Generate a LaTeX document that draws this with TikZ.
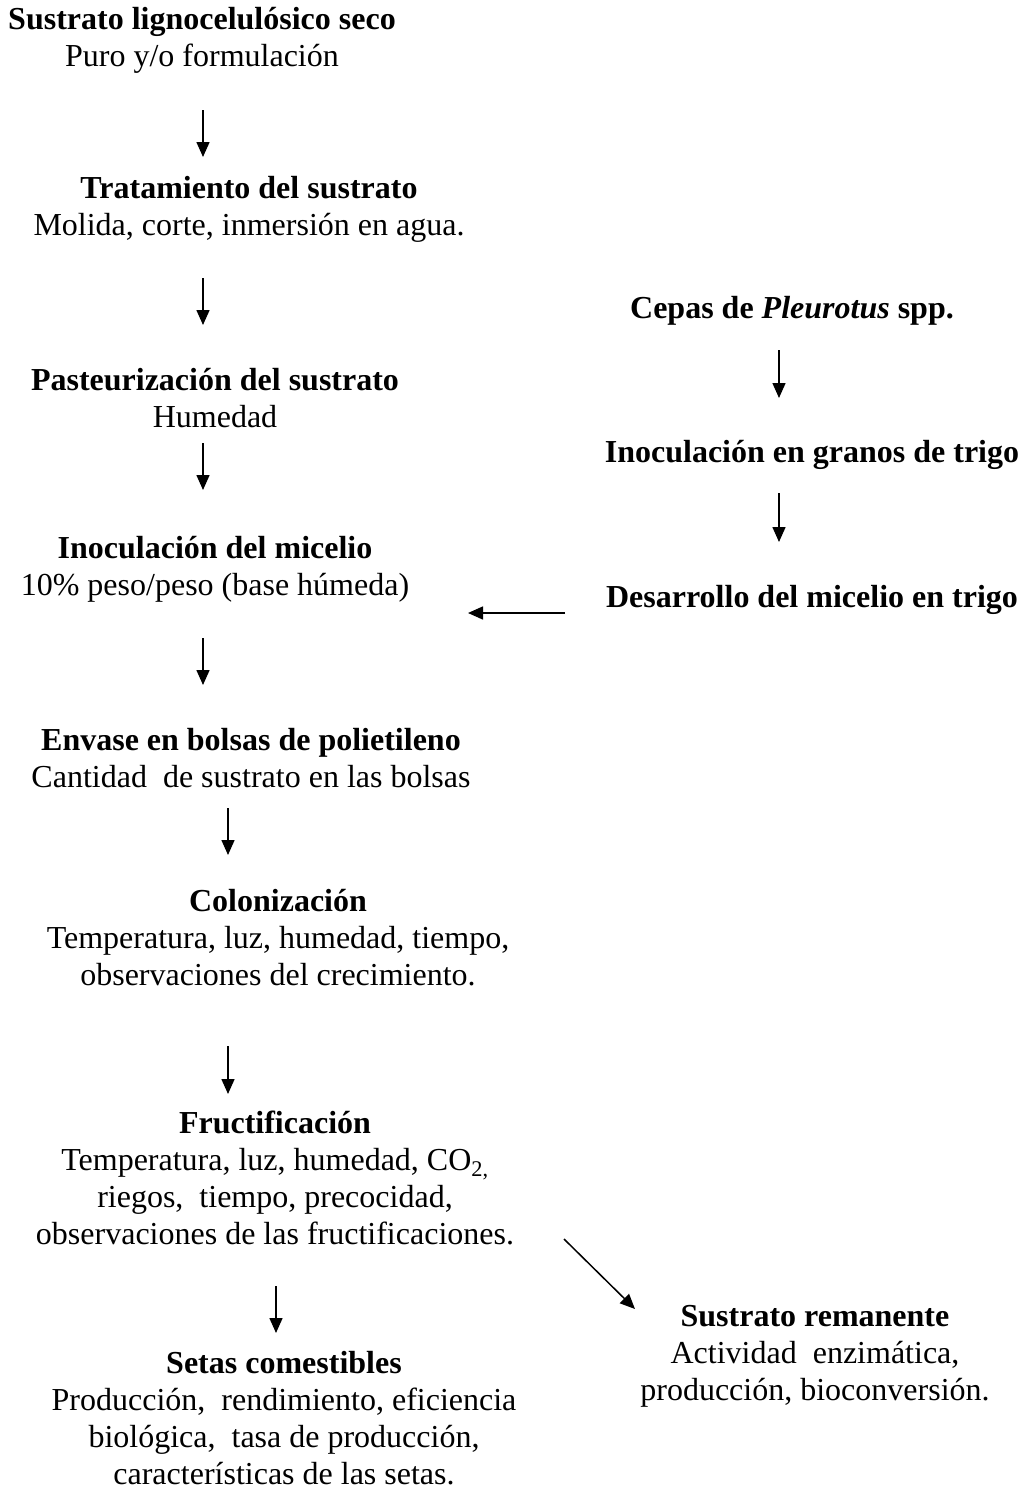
\documentclass[tikz,border=0pt]{standalone}
\usepackage{fontspec}
\setmainfont{Liberation Serif}
\usetikzlibrary{arrows.meta}
\begin{document}
\begin{tikzpicture}[x=1pt,y=-1pt,
  blk/.style={align=center, anchor=north, inner sep=0pt,
              font=\fontsize{32}{37}\selectfont},
  flow/.style={line width=1.5pt, -{Triangle[width=13pt,length=15pt]}}]
\useasboundingbox (0,0) rectangle (1025,1489);

% main sequence (left column)
\node[blk] (seco) at (202,3.1)
  {\strut\textbf{Sustrato lignocelulósico seco}\\Puro y/o formulación};
\node[blk] (trat) at (249,172.1)
  {\strut\textbf{Tratamiento del sustrato}\\Molida, corte, inmersión en agua.};
\node[blk] (past) at (215,364.1)
  {\strut\textbf{Pasteurización del sustrato}\\Humedad};
\node[blk] (inoc) at (215,532.1)
  {\strut\textbf{Inoculación del micelio}\\10\% peso/peso (base húmeda)};
\node[blk] (env) at (251,724.1)
  {\strut\textbf{Envase en bolsas de polietileno}\\Cantidad~ de sustrato en las bolsas};
\node[blk] (colon) at (278,885.1)
  {\strut\textbf{Colonización}\\Temperatura, luz, humedad, tiempo,\\observaciones del crecimiento.};
\node[blk] (fruct) at (275,1107.1)
  {\strut\textbf{Fructificación}\\Temperatura, luz, humedad, CO\textsubscript{2,}\\riegos,~ tiempo, precocidad,\\observaciones de las fructificaciones.};
\node[blk] (setas) at (284,1347.1)
  {\strut\textbf{Setas comestibles}\\Producción,~ rendimiento, eficiencia\\biológica,~ tasa de producción,\\características de las setas.};
\node[blk] (reman) at (815,1300.1)
  {\strut\textbf{Sustrato remanente}\\Actividad~ enzimática,\\producción, bioconversión.};

% spawn preparation (right column)
\node[blk] (cepas) at (792,292.1)
  {\strut\textbf{Cepas de \textit{Pleurotus} spp.}};
\node[blk] (granos) at (812,436.1)
  {\strut\textbf{Inoculación en granos de trigo}};
\node[blk] (desar) at (812,581.1)
  {\strut\textbf{Desarrollo del micelio en trigo}};

% arrow end points
\coordinate (a1s) at (203,110);  \coordinate (a1e) at (203,157);
\coordinate (a2s) at (203,278);  \coordinate (a2e) at (203,325);
\coordinate (a3s) at (203,443);  \coordinate (a3e) at (203,490);
\coordinate (a4s) at (203,638);  \coordinate (a4e) at (203,685);
\coordinate (a5s) at (228,808);  \coordinate (a5e) at (228,855);
\coordinate (a6s) at (228,1046); \coordinate (a6e) at (228,1094);
\coordinate (a7s) at (276,1286); \coordinate (a7e) at (276,1333);
\coordinate (d1s) at (564,1239); \coordinate (d1e) at (635,1309);
\coordinate (r1s) at (779,350);  \coordinate (r1e) at (779,398);
\coordinate (r2s) at (779,493);  \coordinate (r2e) at (779,542);
\coordinate (hs) at (565,613);   \coordinate (he) at (468,613);

\draw[flow] (a1s) -- (a1e);
\draw[flow] (a2s) -- (a2e);
\draw[flow] (a3s) -- (a3e);
\draw[flow] (a4s) -- (a4e);
\draw[flow] (a5s) -- (a5e);
\draw[flow] (a6s) -- (a6e);
\draw[flow] (a7s) -- (a7e);
\draw[flow] (d1s) -- (d1e);
\draw[flow] (r1s) -- (r1e);
\draw[flow] (r2s) -- (r2e);
\draw[flow] (hs) -- (he);
\end{tikzpicture}
\end{document}
